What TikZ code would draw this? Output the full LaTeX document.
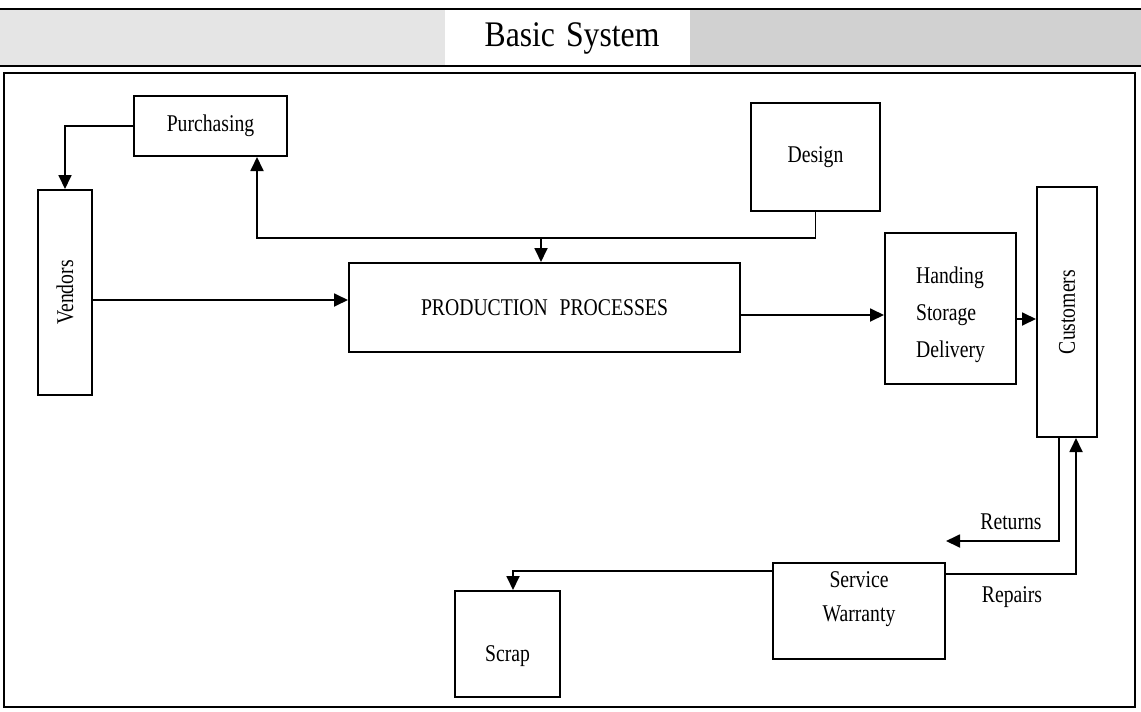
\documentclass[tikz,border=0pt]{standalone}
\usepackage{fontspec}
\setmainfont{Liberation Serif}
\usetikzlibrary{arrows.meta,calc}
\newcommand\sq[1]{\scalebox{0.82}[1]{#1}}
\begin{document}
\begin{tikzpicture}[x=1pt,y=-1pt,
  box/.style={draw=black,line width=2pt,fill=white,inner sep=2pt,font=\fontsize{24}{28}\selectfont},
  arr/.style={line width=1.8pt,-{Triangle[length=14pt,width=13pt]}},
  lbl/.style={font=\fontsize{24}{28}\selectfont}]
\useasboundingbox (0,0) rectangle (1141,712);
% title band
\fill[gray!20] (0,9) rectangle (560,66);
\fill[gray!36] (560,9) rectangle (1141,66);
\fill[white] (445,10) rectangle (690,65);
\draw[line width=2.5pt] (0,9) -- (1141,9);
\draw[line width=2.5pt] (0,66) -- (1141,66);
\node[font=\fontsize{36}{40}\selectfont] (title) at (572,38) {\scalebox{0.88}[1]{Basic\hspace{0.35em}System}};
% frame
\draw[line width=2pt] (4,73) rectangle (1135,707);
% nodes
\node[box,minimum width=153pt,minimum height=60pt] (purch) at (210.5,126) {\sq{Purchasing}};
\node[box,minimum width=54pt,minimum height=205pt] (vend) at (65,292.5) {\rotatebox{90}{\sq{Vendors}}};
\node[box,minimum width=129pt,minimum height=108pt] (design) at (815.5,157) {\sq{Design}};
\node[box,minimum width=391pt,minimum height=89pt] (prod) at (544.5,307.5) {\sq{PRODUCTION\hspace{0.6em}PROCESSES}};
\node[box,minimum width=131pt,minimum height=151pt,align=left] (hsd) at (950.5,308.5)
  {\raisebox{-6pt}[\height][\depth]{\begin{tabular}{@{}l@{}}\sq{Handing}\\[9pt]\sq{Storage}\\[9pt]\sq{Delivery}\end{tabular}}};
\node[box,minimum width=60pt,minimum height=250pt] (cust) at (1067,312) {\rotatebox{90}{\sq{Customers}}};
\node[box,minimum width=172pt,minimum height=96pt] (serv) at (859,611)
  {\raisebox{12pt}[\height][\depth]{\begin{tabular}{@{}c@{}}\sq{Service}\\[6pt]\sq{Warranty}\end{tabular}}};
\node[box,minimum width=105pt,minimum height=106pt] (scrap) at (507.5,644) {\raisebox{-12pt}[\height][\depth]{\sq{Scrap}}};
% connectors
\draw[arr] (purch.west) -| (vend.north);
\coordinate (bus) at (541,238);
\draw[arr] (design.south) |- (bus) -| ([xshift=46.5pt]purch.south);
\draw[arr] (bus) -- (bus |- prod.north);
\draw[arr] (vend.east |- 0,300) -- (prod.west |- 0,300);
\draw[arr] (prod.east |- 0,315) -- (hsd.west |- 0,315);
\draw[arr] (hsd.east |- 0,319) -- (cust.west |- 0,319);
\draw[arr] (cust.south -| 1059,0) |- (serv.east |- 0,541);
\draw[arr] (serv.east |- 0,574) -| (cust.south -| 1076,0);
\draw[arr] (serv.west |- 0,571) -| (scrap.north -| 513,0);
\node[lbl] (ret) at (1011,522) {\sq{Returns}};
\node[lbl] (rep) at (1012,597) {\sq{Repairs}};
\end{tikzpicture}
\end{document}
